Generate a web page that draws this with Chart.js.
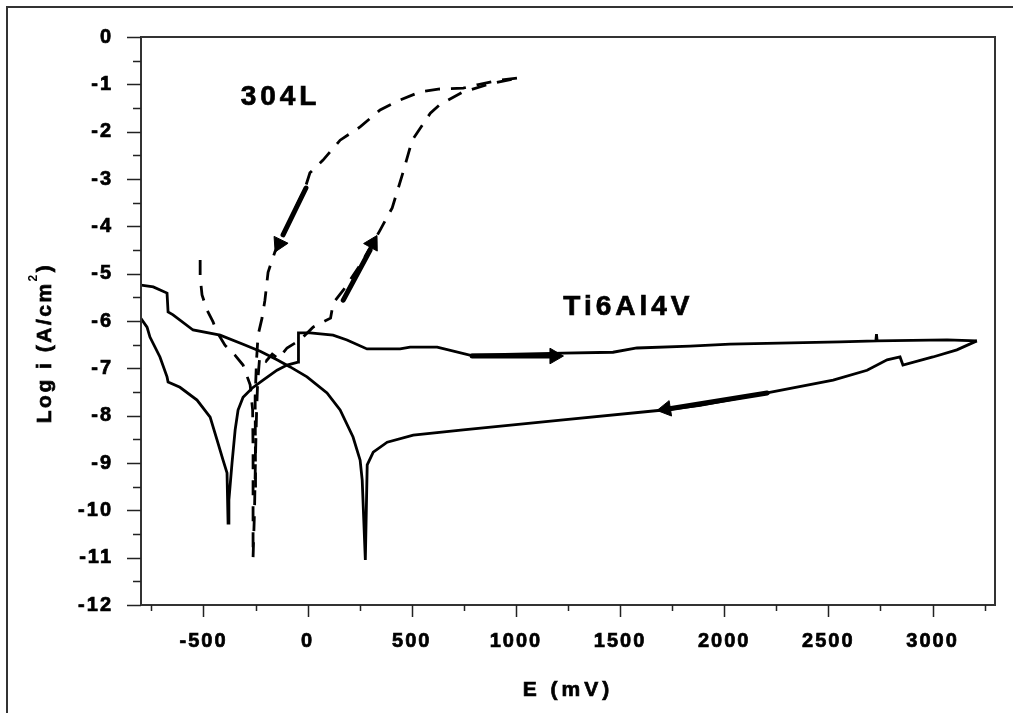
<!DOCTYPE html>
<html>
<head>
<meta charset="utf-8">
<script src="https://cdn.jsdelivr.net/npm/chart.js@4.4.1/dist/chart.umd.min.js"></script>
<style>
  html, body { margin: 0; padding: 0; background: #fff; overflow: hidden; }
  #wrap { width: 1013px; height: 713px; position: relative; }
</style>
</head>
<body>
<div id="wrap"><canvas id="chart" width="1013" height="713"></canvas></div>
<script>
// Ti6Al4V forward scan: cathodic branch -> Ecorr dip -> passive range up to ~3200 mV
const tiFwdE = [-800, -771, -757, -709, -675, -670, -613, -531, -468, -435, -406, -387, -382, -378, -363, -348, -334, -310, -267, -214, -147, -99, -46, -44, 12, 122, 189, 285, 444, 492, 622, 778, 1225, 1466, 1581, 1836, 2028, 2556, 2728, 2731, 2734, 3070, 3213];
const tiFwdLog = [-5.95, -6.13, -6.34, -6.76, -7.18, -7.29, -7.40, -7.67, -8.03, -8.51, -8.94, -9.21, -10.27, -9.78, -9.00, -8.30, -7.88, -7.61, -7.42, -7.25, -7.04, -6.93, -6.87, -6.25, -6.25, -6.30, -6.40, -6.59, -6.59, -6.55, -6.55, -6.72, -6.68, -6.66, -6.57, -6.53, -6.49, -6.44, -6.42, -6.28, -6.42, -6.40, -6.42];

// Ti6Al4V reverse scan back to -800 mV
const tiRevE = [3213, 3117, 3002, 2858, 2844, 2782, 2686, 2523, 2206, 1884, 1707, 1227, 747, 507, 382, 315, 286, 277, 262, 252, 218, 156, 93, -3, -84, -147, -228, -310, -420, -550, -646, -670, -675, -741, -800];
const tiRevLog = [-6.42, -6.61, -6.76, -6.93, -6.76, -6.82, -7.04, -7.25, -7.52, -7.78, -7.88, -8.09, -8.30, -8.41, -8.56, -8.77, -9.04, -11.05, -9.36, -8.94, -8.45, -7.88, -7.52, -7.18, -6.97, -6.82, -6.64, -6.49, -6.30, -6.19, -5.87, -5.81, -5.41, -5.28, -5.24];

// 304L forward scan
const ssFwdE = [-516, -516, -507, -483, -454, -435, -397, -349, -310, -276, -264, -262, -262, -255, -250, -245, -240, -230, -200, -170, -140, -99, -36, 26, 110, 123, 171, 252, 348, 406, 454, 502, 589, 637, 747, 876, 1005];
const ssFwdLog = [-4.71, -5.07, -5.45, -5.77, -6.02, -6.23, -6.51, -6.72, -6.93, -7.35, -7.88, -8.73, -11.0, -10.0, -8.8, -7.9, -7.3, -6.75, -6.85, -6.70, -6.80, -6.57, -6.40, -6.13, -5.94, -5.62, -5.35, -4.82, -4.08, -3.61, -2.92, -2.18, -1.61, -1.42, -1.16, -0.99, -0.87];

// 304L reverse scan
const ssRevE = [1005, 924, 814, 747, 627, 540, 444, 348, 252, 156, 74, 11, -12, -85, -157, -190, -205, -219, -238, -245, -252, -250];
const ssRevLog = [-0.87, -0.91, -1.01, -1.08, -1.10, -1.16, -1.33, -1.54, -1.90, -2.18, -2.60, -2.87, -3.19, -3.87, -4.54, -4.97, -5.56, -5.94, -6.30, -6.80, -7.60, -9.60];

// scan-direction arrows (shaft end points and head positions)
const arrowShaftE = [[-8, -118], [171, 300], [790, 1180], [1730, 2206]];
const arrowShaftLog = [[-3.19, -4.18], [-5.56, -4.50], [-6.74, -6.74], [-7.86, -7.52]];
const arrowHeadE = [-137, 312, 1185, 1720];
const arrowHeadLog = [-4.37, -4.36, -6.74, -7.86];
const arrowHeadAngle = [206, 29, 90, 261];

// curve labels
const curveNames = ['304L', 'Ti6Al4V'];
const curveNameE = [-130, 1540];
const curveNameLog = [-1.27, -5.70];

// axes
const xMin = -800, xMax = 3300;
const yMin = -12, yMax = 0;
const xTickValues = [-750, -500, -250, 0, 250, 500, 750, 1000, 1250, 1500, 1750, 2000, 2250, 2500, 2750, 3000, 3250];
const yTickValues = [0, -0.5, -1, -1.5, -2, -2.5, -3, -3.5, -4, -4.5, -5, -5.5, -6, -6.5, -7, -7.5, -8, -8.5, -9, -9.5, -10, -10.5, -11, -11.5, -12];
const xLabelStep = 500;
const yLabelStep = 1;
const xTitle = 'E (mV)';
const yTitle = ['Log i (A/cm', '2', ')'];

const FONT = '"Liberation Sans", Arial, Helvetica, sans-serif';

function toPoints(xs, ys) {
    return xs.map((x, i) => ({ x: x, y: ys[i] }));
}

const lineBase = {
    showLine: true,
    borderColor: '#000',
    backgroundColor: '#000',
    borderWidth: 2.8,
    pointRadius: 0,
    tension: 0,
    fill: false
};

const datasets = [
    Object.assign({ label: 'Ti6Al4V fwd', data: toPoints(tiFwdE, tiFwdLog) }, lineBase),
    Object.assign({ label: 'Ti6Al4V rev', data: toPoints(tiRevE, tiRevLog) }, lineBase),
    Object.assign({ label: '304L fwd', data: toPoints(ssFwdE, ssFwdLog), borderDash: [15, 11] }, lineBase),
    Object.assign({ label: '304L rev', data: toPoints(ssRevE, ssRevLog), borderDash: [15, 11] }, lineBase)
];

arrowShaftE.forEach((es, i) => {
    datasets.push(Object.assign({}, lineBase, {
        label: 'arrow ' + i,
        data: toPoints(es, arrowShaftLog[i]),
        borderWidth: 5,
        borderCapStyle: 'round'
    }));
});

datasets.push({
    label: 'arrow heads',
    data: toPoints(arrowHeadE, arrowHeadLog),
    showLine: false,
    pointStyle: 'triangle',
    pointRadius: 9,
    pointRotation: arrowHeadAngle,
    backgroundColor: '#000',
    borderColor: '#000',
    borderWidth: 1
});

const tickFont = { family: FONT, size: 20, weight: 'bold' };

const decorations = {
    id: 'decorations',
    beforeDraw(chart) {
        const ctx = chart.ctx;
        ctx.save();
        ctx.fillStyle = '#fff';
        ctx.fillRect(0, 0, chart.width, chart.height);
        // outer picture frame
        ctx.strokeStyle = '#333';
        ctx.lineWidth = 2;
        ctx.beginPath();
        ctx.moveTo(7, chart.height);
        ctx.lineTo(7, 7);
        ctx.lineTo(chart.width, 7);
        ctx.stroke();
        ctx.restore();
        ctx.letterSpacing = '2px';
    },
    afterDraw(chart) {
        const ctx = chart.ctx;
        const ca = chart.chartArea;
        const xs = chart.scales.x;
        const ys = chart.scales.y;
        ctx.save();
        ctx.strokeStyle = '#333';
        ctx.lineWidth = 2;
        ctx.strokeRect(ca.left, ca.top, ca.right - ca.left, ca.bottom - ca.top);

        ctx.lineWidth = 1.5;
        ctx.strokeStyle = '#222';
        ctx.beginPath();
        xs.ticks.forEach(t => {
            const px = Math.round(xs.getPixelForValue(t.value)) + 0.5;
            const len = t.value % xLabelStep === 0 ? 12 : 6;
            ctx.moveTo(px, ca.bottom);
            ctx.lineTo(px, ca.bottom + len);
        });
        ys.ticks.forEach(t => {
            const py = Math.round(ys.getPixelForValue(t.value)) + 0.5;
            const len = t.value % yLabelStep === 0 ? 14 : 8;
            ctx.moveTo(ca.left, py);
            ctx.lineTo(ca.left - len, py);
        });
        ctx.stroke();

        ctx.fillStyle = '#000';
        ctx.strokeStyle = '#000';
        ctx.lineWidth = 0.7;
        // curve names
        ctx.letterSpacing = '4px';
        ctx.font = 'bold 28px ' + FONT;
        ctx.textAlign = 'center';
        ctx.textBaseline = 'middle';
        curveNames.forEach((name, i) => {
            const px = xs.getPixelForValue(curveNameE[i]);
            const py = ys.getPixelForValue(curveNameLog[i]);
            ctx.fillText(name, px, py);
            ctx.strokeText(name, px, py);
        });

        // x axis title
        ctx.letterSpacing = '4px';
        ctx.font = 'bold 21px ' + FONT;
        ctx.fillText(xTitle, (ca.left + ca.right) / 2, 690);
        ctx.strokeText(xTitle, (ca.left + ca.right) / 2, 690);

        // y axis title with superscript
        ctx.translate(45, 343);
        ctx.rotate(-Math.PI / 2);
        ctx.letterSpacing = '2.5px';
        const big = 'bold 21px ' + FONT;
        const small = 'bold 12px ' + FONT;
        ctx.font = big;
        const w0 = ctx.measureText(yTitle[0]).width;
        const w2 = ctx.measureText(yTitle[2]).width;
        ctx.font = small;
        const w1 = ctx.measureText(yTitle[1]).width;
        let cx = -(w0 + w1 + w2) / 2;
        ctx.textAlign = 'left';
        ctx.font = big;
        ctx.fillText(yTitle[0], cx, 0);
        ctx.strokeText(yTitle[0], cx, 0);
        cx += w0;
        ctx.font = small;
        ctx.fillText(yTitle[1], cx, -11);
        cx += w1;
        ctx.font = big;
        ctx.fillText(yTitle[2], cx, 0);
        ctx.strokeText(yTitle[2], cx, 0);
        ctx.restore();
    }
};

new Chart(document.getElementById('chart'), {
    type: 'scatter',
    data: { datasets: datasets },
    options: {
        responsive: false,
        devicePixelRatio: 1,
        animation: false,
        layout: { padding: { top: 37, right: 18, left: 0, bottom: 0 } },
        plugins: {
            legend: { display: false },
            tooltip: { enabled: false }
        },
        scales: {
            x: {
                type: 'linear',
                position: 'bottom',
                min: xMin,
                max: xMax,
                afterFit: scale => { scale.height = 108; },
                afterBuildTicks: scale => { scale.ticks = xTickValues.map(v => ({ value: v })); },
                grid: { display: false },
                border: { display: false },
                ticks: {
                    autoSkip: false,
                    maxRotation: 0,
                    padding: 16,
                    color: '#000',
                    textStrokeColor: '#000',
                    textStrokeWidth: 0.7,
                    font: tickFont,
                    callback: v => (v % xLabelStep === 0 ? String(v) : '')
                }
            },
            y: {
                type: 'linear',
                min: yMin,
                max: yMax,
                afterFit: scale => { scale.width = 141; },
                afterBuildTicks: scale => { scale.ticks = yTickValues.map(v => ({ value: v })); },
                grid: { display: false },
                border: { display: false },
                ticks: {
                    autoSkip: false,
                    padding: 20,
                    color: '#000',
                    textStrokeColor: '#000',
                    textStrokeWidth: 0.7,
                    font: tickFont,
                    callback: v => (v % yLabelStep === 0 ? String(v) : '')
                }
            }
        }
    },
    plugins: [decorations]
});
</script>
</body>
</html>
